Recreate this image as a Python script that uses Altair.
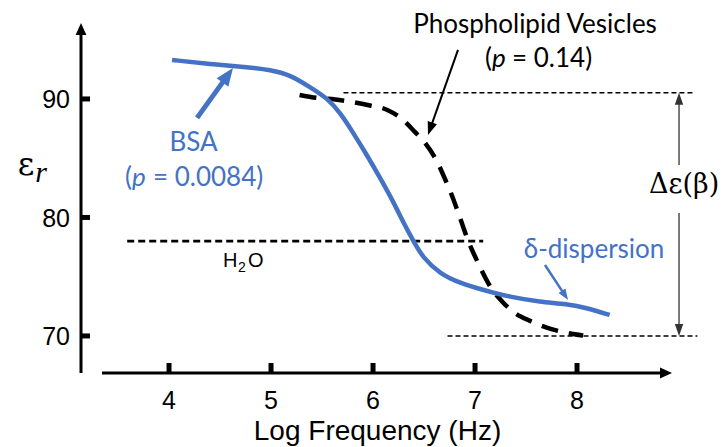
import math
import altair as alt
import pandas as pd

# ---------------- data ----------------
bsa_logf = [4.03, 4.40, 4.79, 4.99, 5.19, 5.38, 5.55, 5.68, 5.80, 5.94, 6.07, 6.20,
            6.29, 6.39, 6.49, 6.66, 6.85, 7.08, 7.34, 7.64, 7.90, 8.10, 8.32]
bsa_eps = [93.29, 92.95, 92.66, 92.45, 92.03, 91.01, 90.08, 88.82, 87.22, 85.27, 83.33, 81.31,
           79.70, 78.10, 76.58, 75.23, 74.47, 73.88, 73.29, 72.87, 72.70, 72.36, 71.77]

ves_logf = [5.28, 5.46, 5.63, 5.79, 5.97, 6.14, 6.27, 6.41, 6.51, 6.63, 6.71, 6.76,
            6.85, 6.93, 7.03, 7.14, 7.27, 7.39, 7.54, 7.71, 7.88, 8.06]
ves_eps = [90.34, 90.08, 89.96, 89.75, 89.45, 89.07, 88.40, 87.22, 86.29, 84.68, 83.16, 82.15,
           80.04, 78.10, 76.16, 74.30, 72.87, 71.94, 71.27, 70.68, 70.30, 70.04]

x_tick_values = [4, 5, 6, 7, 8]
y_tick_values = [70, 80, 90]

water_eps = 78.0
water_logf = [3.59, 7.08]

beta_top = 90.53
beta_bottom = 70.0
beta_top_logf = [5.71, 9.16]
beta_bottom_logf = [6.73, 9.18]

# ---------------- layout ----------------
PPX = 102.0     # pixels per log-frequency unit
PPY = 11.85     # pixels per permittivity unit
W = 629
H = 357
XMIN = 3.137
XMAX = XMIN + W / PPX
YMAX = 97.0
YMIN = YMAX - H / PPY

BLUE = "#4472C4"
BLACK = "#000000"

xs = alt.Scale(domain=[XMIN, XMAX], nice=False, zero=False)
ys = alt.Scale(domain=[YMIN, YMAX], nice=False, zero=False)
X = lambda: alt.X("x:Q", scale=xs, axis=None)
Y = lambda: alt.Y("y:Q", scale=ys, axis=None)


def rule(x0, y0, x1, y1, color=BLACK, width=1.0, dash=None):
    kw = dict(color=color, strokeWidth=width)
    if dash:
        kw["strokeDash"] = dash
    df = pd.DataFrame({"x": [x0], "y": [y0], "x2": [x1], "y2": [y1]})
    return alt.Chart(df).mark_rule(**kw).encode(x=X(), y=Y(), x2="x2:Q", y2="y2:Q")


def arrow(x0, y0, x1, y1, color=BLACK, width=2.0, head=12.0, ratio=0.75):
    dxp = (x1 - x0) * PPX
    dyp = -(y1 - y0) * PPY
    L = math.hypot(dxp, dyp)
    ux, uy = dxp / L, dyp / L
    ang = math.degrees(math.atan2(ux, -uy)) % 360
    back = head * 0.8
    xe = x1 - ux * back / PPX
    ye = y1 + uy * back / PPY
    path = f"M0,0L{-ratio:.3f},2L{ratio:.3f},2Z"
    hd = pd.DataFrame({"x": [x1], "y": [y1]})
    return [
        rule(x0, y0, xe, ye, color=color, width=width),
        alt.Chart(hd).mark_point(shape=path, size=head * head, angle=ang, filled=True,
                                 color=color, opacity=1, strokeWidth=0).encode(x=X(), y=Y()),
    ]


def text(x, y, s, size=26, font="Lato", color=BLACK, align="center", style="normal", dy=0):
    df = pd.DataFrame({"x": [x], "y": [y]})
    return alt.Chart(df).mark_text(
        text=s, fontSize=size, font=font, color=color, align=align,
        baseline="alphabetic", fontStyle=style, dy=dy,
    ).encode(x=X(), y=Y())


layers = []

# axis lines with arrows
layers += arrow(3.343, YMIN, 8.931, YMIN, width=3, head=12, ratio=0.9)
layers += arrow(XMIN, YMIN, XMIN, 96.41, width=3, head=12, ratio=0.9)

# ticks
xt = pd.DataFrame({"x": x_tick_values, "y": [YMIN] * len(x_tick_values),
                   "y2": [YMIN + 10 / PPY] * len(x_tick_values)})
layers.append(alt.Chart(xt).mark_rule(color=BLACK, strokeWidth=5).encode(x=X(), y=Y(), y2="y2:Q"))
yt = pd.DataFrame({"y": y_tick_values, "x": [XMIN] * len(y_tick_values),
                   "x2": [XMIN + 9 / PPX] * len(y_tick_values)})
layers.append(alt.Chart(yt).mark_rule(color=BLACK, strokeWidth=5).encode(x=X(), y=Y(), x2="x2:Q"))

# tick labels
xl = pd.DataFrame({"x": x_tick_values, "y": [YMIN] * len(x_tick_values),
                   "t": [str(v) for v in x_tick_values]})
layers.append(alt.Chart(xl).mark_text(font="Liberation Sans", fontSize=25, color=BLACK,
                                      align="center", baseline="alphabetic", dy=36)
              .encode(x=X(), y=Y(), text="t:N"))
yl = pd.DataFrame({"y": y_tick_values, "x": [XMIN] * len(y_tick_values),
                   "t": [str(v) for v in y_tick_values]})
layers.append(alt.Chart(yl).mark_text(font="Liberation Sans", fontSize=25, color=BLACK,
                                      align="right", baseline="alphabetic", dx=-11, dy=9.5)
              .encode(x=X(), y=Y(), text="t:N"))

# reference lines
layers.append(rule(water_logf[0], water_eps, water_logf[1], water_eps, width=2.6, dash=[7, 4]))
layers.append(rule(beta_top_logf[0], beta_top, beta_top_logf[1], beta_top, width=1.5, dash=[5, 3]))
layers.append(rule(beta_bottom_logf[0], beta_bottom, beta_bottom_logf[1], beta_bottom, width=1.5, dash=[5, 3]))

# curves
ves_df = pd.DataFrame({"x": ves_logf, "y": ves_eps})
layers.append(alt.Chart(ves_df).mark_line(color=BLACK, strokeWidth=4.5, strokeDash=[17, 11],
                                          interpolate="monotone").encode(x=X(), y=Y()))
bsa_df = pd.DataFrame({"x": bsa_logf, "y": bsa_eps})
layers.append(alt.Chart(bsa_df).mark_line(color=BLUE, strokeWidth=4.5,
                                          interpolate="basis").encode(x=X(), y=Y()))

# annotation arrows
layers += arrow(4.275, 88.40, 4.627, 92.62, color=BLUE, width=5, head=18, ratio=0.8)
layers += arrow(6.833, 94.14, 6.539, 86.96, color=BLACK, width=2, head=13, ratio=0.75)
layers += arrow(7.686, 75.99, 7.912, 73.04, color=BLUE, width=2.5, head=11, ratio=0.75)
layers += arrow(9.0, 84.43, 9.0, beta_top, color="#333333", width=1.3, head=12, ratio=0.7)
layers += arrow(9.0, 80.38, 9.0, beta_bottom, color="#333333", width=1.3, head=12, ratio=0.7)

# texts
layers.append(text(7.588, 95.57, "Phospholipid Vesicles"))
layers.append(text(7.167, 92.70, "(", align="right"))
layers.append(text(7.167, 92.70, "p", align="left", style="italic"))
layers.append(text(7.363, 92.70, "= 0.14)", align="left"))

layers.append(text(4.240, 85.61, "BSA", color=BLUE))
layers.append(text(3.637, 82.66, "(", color=BLUE, align="right"))
layers.append(text(3.637, 82.66, "p", color=BLUE, align="left", style="italic"))
layers.append(text(3.843, 82.66, "= 0.0084)", color=BLUE, align="left"))

layers.append(text(8.167, 76.58, "δ-dispersion", color=BLUE))

layers.append(text(4.529, 75.82, "H", size=20, font="Liberation Sans", align="left"))
layers.append(text(4.676, 75.40, "2", size=14, font="Liberation Sans", align="left"))
layers.append(text(4.775, 75.82, "O", size=20, font="Liberation Sans", align="left"))

layers.append(text(9.05, 82.07, "Δε(β)", size=27, font="DejaVu Serif"))
layers.append(text(2.598, 83.59, "ε", size=32, font="DejaVu Serif"))
layers.append(text(2.745, 83.00, "r", size=30, font="Liberation Serif", style="italic"))

layers.append(text(6.044, YMIN, "Log Frequency (Hz)", size=28, font="Liberation Sans", dy=67))

chart = alt.layer(*layers).properties(
    width=W,
    height=H,
    padding={"left": 73, "top": 8, "right": 9, "bottom": 74},
    autosize=alt.AutoSizeParams(type="none"),
).configure_view(stroke=None)

chart.save("out.html", embed_options={"renderer": "svg", "actions": False})
